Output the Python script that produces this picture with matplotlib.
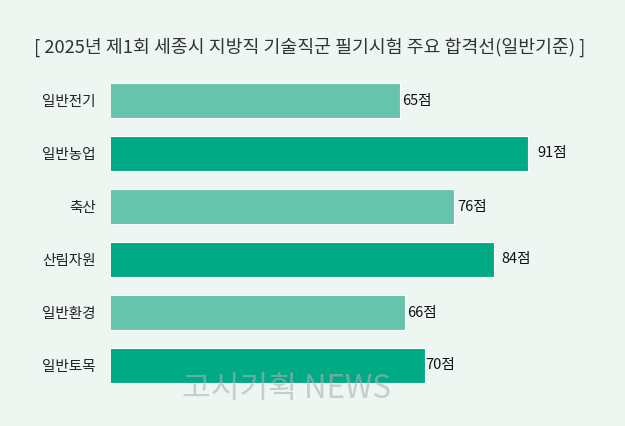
import matplotlib.pyplot as plt

plt.rcParams['font.family'] = ['Noto Sans CJK KR', 'DejaVu Sans']

categories = ['일반전기', '일반농업', '축산', '산림자원', '일반환경', '일반토목']
scores = [65, 91, 76, 84, 66, 70]
title = '[ 2025년 제1회 세종시 지방직 기술직군 필기시험 주요 합격선(일반기준) ]'

bg = '#eef6f2'
light = '#66c3ac'
dark = '#00aa85'
bar_colors = [light if i % 2 == 0 else dark for i in range(len(categories))]
# label gaps (px) as they sit in the original
label_gap = [2, 9, 3, 8, 2, 1]

fig = plt.figure(figsize=(6.25, 4.26), dpi=100)
fig.patch.set_facecolor(bg)

# axes placed in pixel terms: x 111..600, y 74..392 (from top)
W, H = 625, 426
ax = fig.add_axes([111 / W, 1 - 392 / H, (600 - 111) / W, (392 - 74) / H])
ax.set_facecolor(bg)

ypos = list(range(len(categories)))
ax.barh(ypos, scores, height=0.66, color=bar_colors, edgecolor='white', linewidth=0.8)
ax.set_xlim(6.3, 105.6)
ax.set_ylim(len(categories) - 0.5, -0.5)

for y, v, g in zip(ypos, scores, label_gap):
    ax.annotate(f'{v}점', (v, y), xytext=(g * 0.72, 0), textcoords='offset points',
                va='center', ha='left', fontsize=10.5, color='#111111', fontweight='medium')

ax.set_yticks(ypos)
ax.set_yticklabels(categories, fontsize=10.5, color='#222222', fontweight='medium')
ax.tick_params(axis='y', length=0, pad=11)
ax.set_xticks([])
for s in ax.spines.values():
    s.set_visible(False)

fig.text(310 / W, 1 - 47 / H, title, ha='center', va='center', fontsize=13.2,
         color='#333333', fontweight='medium')

fig.text(286 / W, 1 - 389 / H, '고시기획 NEWS', ha='center', va='center', fontsize=22.5,
         color='#b0b0b0', alpha=0.6, fontweight='light')

fig.savefig('out.png', dpi=100, facecolor=bg)
